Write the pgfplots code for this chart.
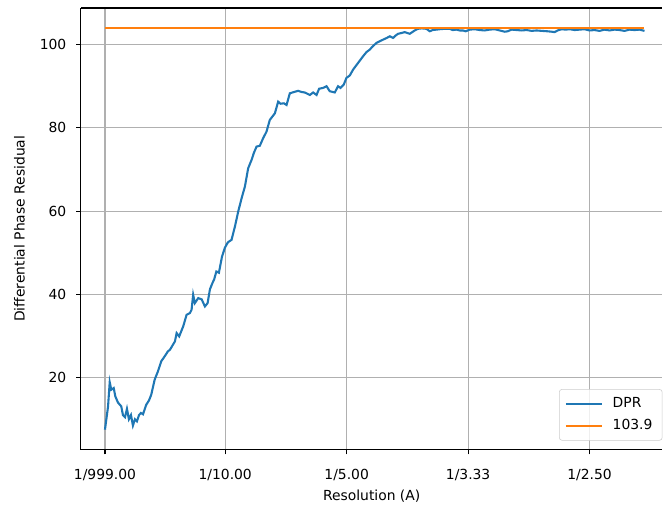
\documentclass[border=0pt]{standalone}
\usepackage{pgfplots}
\pgfplotsset{compat=1.18}
\usepackage{pgfplotstable}
\usepackage{fontspec}
\setmainfont{DejaVu Sans}
\definecolor{tabblue}{HTML}{1F77B4}
\definecolor{taborange}{HTML}{FF7F0E}
\pgfplotstableread{
x y
0.0010 7.5
0.0035 13.0
0.0049 18.9
0.0062 17.1
0.0082 17.5
0.0095 15.5
0.0117 14.0
0.0144 13.1
0.0158 11.0
0.0175 10.5
0.0191 12.5
0.0207 10.0
0.0224 11.0
0.0240 8.5
0.0257 10.0
0.0273 9.5
0.0290 11.0
0.0306 11.5
0.0323 11.2
0.0350 13.5
0.0372 14.5
0.0391 15.9
0.0419 19.5
0.0446 21.5
0.0473 23.9
0.0501 25.1
0.0528 26.3
0.0545 26.7
0.0586 28.7
0.0600 30.7
0.0621 29.9
0.0654 32.3
0.0682 35.1
0.0709 35.5
0.0723 36.3
0.0736 39.9
0.0750 37.9
0.0778 39.1
0.0806 38.8
0.0833 37.1
0.0855 37.9
0.0874 41.2
0.0896 42.8
0.0909 43.6
0.0927 45.5
0.0948 45.2
0.0973 49.0
0.0997 51.2
0.1022 52.5
0.1052 53.1
0.1080 56.3
0.1107 59.9
0.1135 63.1
0.1162 65.9
0.1189 70.3
0.1217 72.3
0.1236 74.0
0.1258 75.5
0.1285 75.7
0.1312 77.5
0.1340 79.1
0.1367 81.9
0.1409 83.5
0.1436 86.3
0.1455 85.8
0.1483 85.9
0.1505 85.5
0.1532 88.3
0.1565 88.6
0.1600 88.9
0.1631 88.6
0.1655 88.5
0.1697 87.9
0.1724 88.5
0.1752 87.9
0.1773 89.4
0.1806 89.6
0.1834 90.0
0.1861 88.8
0.1902 88.5
0.1929 90.0
0.1949 89.6
0.1976 90.4
0.1998 92.0
0.2026 92.6
0.2053 94.0
0.2094 95.6
0.2135 97.2
0.2163 98.2
0.2190 98.8
0.2215 99.6
0.2245 100.4
0.2272 100.8
0.2300 101.2
0.2330 101.6
0.2355 102.0
0.2382 101.6
0.2404 102.2
0.2423 102.6
0.2453 102.8
0.2478 103.0
0.2519 102.6
0.2560 103.4
0.2588 103.8
0.2618 103.9
0.2657 103.8
0.2684 103.2
0.2708 103.5
0.2739 103.6
0.2766 103.7
0.2807 103.8
0.2848 103.8
0.2873 103.5
0.2903 103.6
0.2931 103.4
0.2958 103.4
0.2980 103.2
0.3013 103.6
0.3054 103.7
0.3095 103.5
0.3136 103.4
0.3177 103.6
0.3219 103.7
0.3260 103.4
0.3301 103.1
0.3325 103.2
0.3358 103.6
0.3400 103.5
0.3441 103.4
0.3482 103.5
0.3523 103.3
0.3564 103.4
0.3605 103.3
0.3655 103.2
0.3688 103.1
0.3712 103.0
0.3737 103.4
0.3770 103.7
0.3803 103.6
0.3836 103.7
0.3877 103.5
0.3918 103.6
0.3959 103.7
0.4000 103.4
0.4041 103.5
0.4082 103.3
0.4123 103.6
0.4165 103.4
0.4206 103.6
0.4247 103.5
0.4288 103.3
0.4329 103.6
0.4370 103.5
0.4411 103.6
0.4452 103.3
}\dpr
\begin{document}
\begin{tikzpicture}
\begin{axis}[
  at={(0,0)}, anchor=south west,
  scale only axis, width=419.04pt, height=318.24pt,
  xmin=-0.0188, xmax=0.4600, ymin=2.7, ymax=108.8,
  axis x line*=box, axis y line*=left,
  xtick={0.001,0.1,0.2,0.3,0.4},
  xticklabels={1/999.00,1/10.00,1/5.00,1/3.33,1/2.50},
  ytick={20,40,60,80,100},
  /pgf/number format/assume math mode=true,
  tick align=outside, xtick pos=lower, ytick pos=left,
  major tick length=3.5pt,
  every tick/.style={black, line width=0.8pt},
  axis line style={line width=0.8pt, -},
  grid=major,
  grid style={color=black!31, line width=0.8pt},
  ticklabel style={font=\fontsize{10}{12}\selectfont},
  xticklabel style={yshift=-7pt},
  yticklabel style={xshift=-3.5pt},
  label style={font=\fontsize{10}{12}\selectfont},
  xlabel={Resolution (A)},
  ylabel={Differential Phase Residual},
  xlabel style={yshift=0.5pt},
  ylabel style={yshift=4pt},
  legend cell align=left,
  legend style={at={(rel axis cs:1,0)}, anchor=south east, xshift=0pt, yshift=6.5pt,
    draw=black!20, rounded corners=2pt, fill=white, fill opacity=0.8, text opacity=1,
    font=\fontsize{10}{12}\selectfont, inner xsep=4pt, inner ysep=4pt, row sep=3pt,
    column sep=4pt, nodes={inner xsep=3pt, inner ysep=2pt}},
  legend image code/.code={\draw[#1] (0pt,0pt) -- (26pt,0pt);},
]
\addplot[color=tabblue, line width=1.5pt] table[x=x,y=y]{\dpr};
\addlegendentry{DPR}
\addplot[color=taborange, line width=1.5pt] coordinates {(0.001,103.9) (0.4452,103.9)};
\addlegendentry{103.9}
\end{axis}
\path (-58.32pt,-40.32pt) rectangle (419.04pt,324pt);
\end{tikzpicture}
\end{document}
